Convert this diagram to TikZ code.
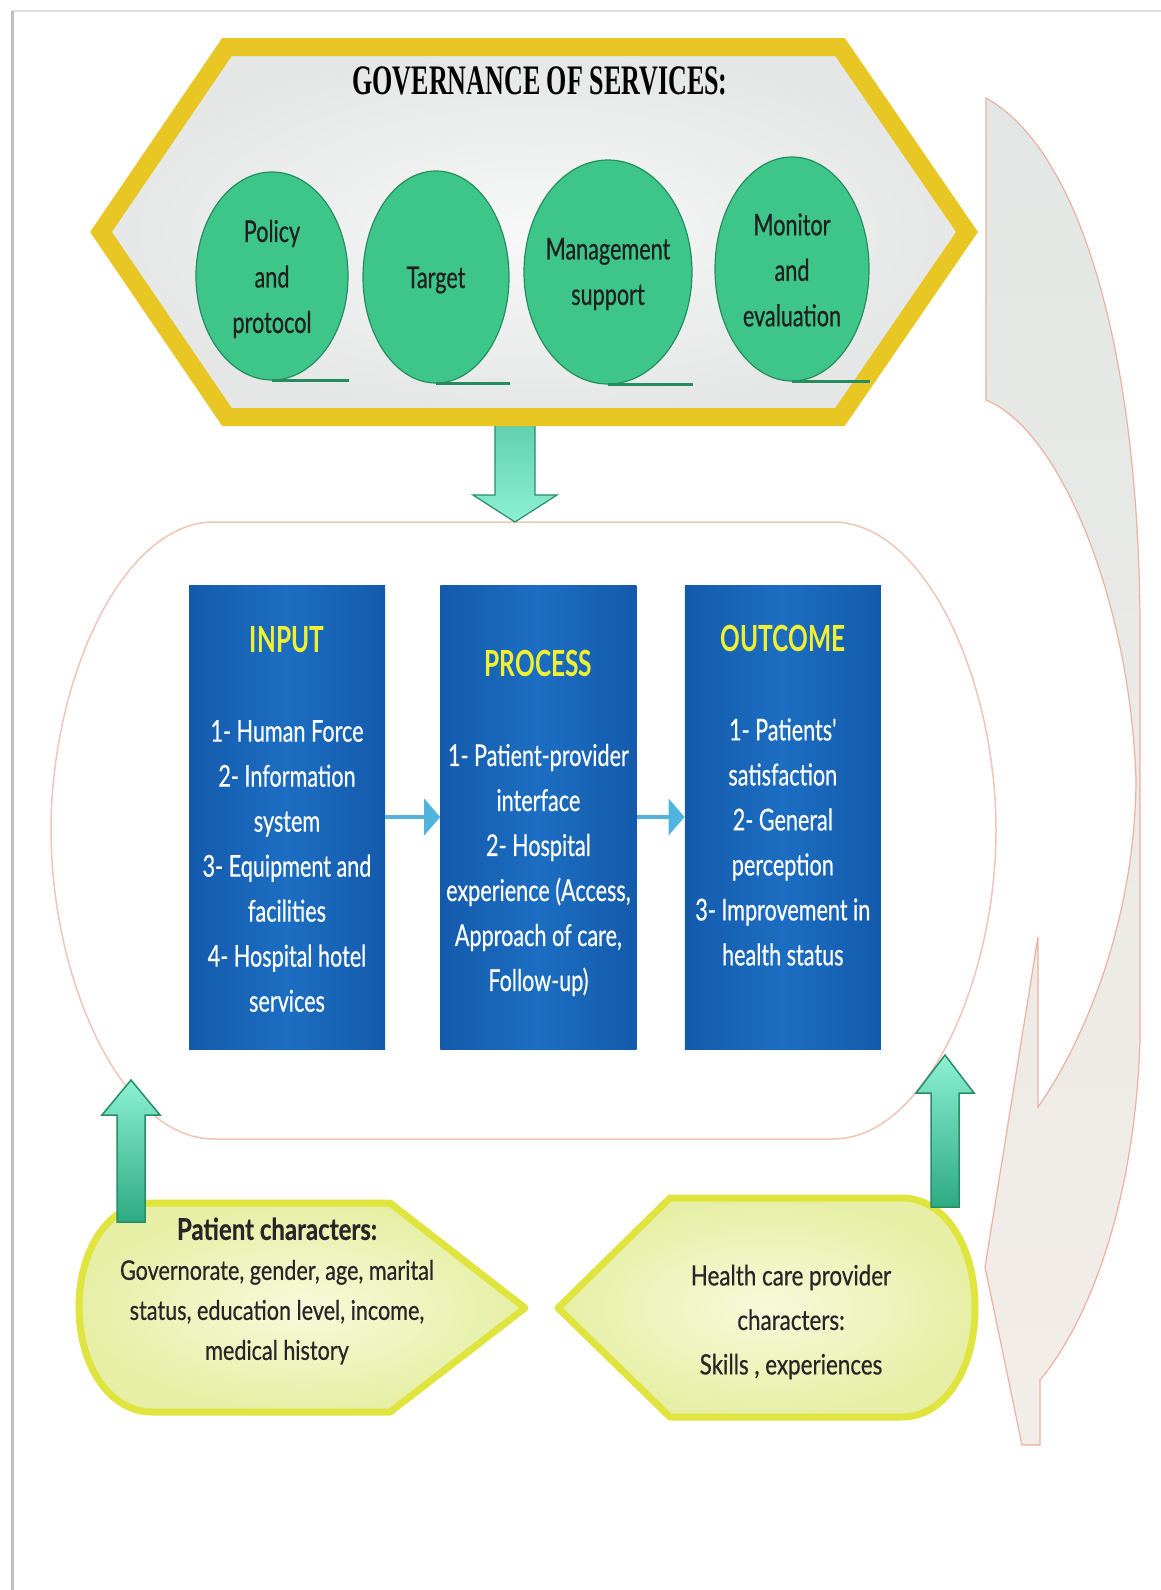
\documentclass[tikz,border=0pt]{standalone}
\usepackage{fontspec}
\setmainfont{Lato}
\newfontfamily\condfont[FakeStretch=0.72, FakeBold=0.5]{Lato}
\newfontfamily\headfont[FakeStretch=0.68]{Lato}
\newfontfamily\wordfont[FakeStretch=0.8, FakeBold=0.5]{Lato}
\newfontfamily\govfont[FakeStretch=0.62]{Liberation Serif}
\usetikzlibrary{shapes.geometric,positioning,calc,arrows.meta}

\definecolor{goalfill}{RGB}{62,198,138}
\definecolor{goalline}{RGB}{36,140,95}
\definecolor{stageedge}{RGB}{20,90,172}
\definecolor{stagemid}{RGB}{28,110,194}
\definecolor{headyellow}{RGB}{240,240,50}
\definecolor{flowblue}{RGB}{80,180,222}
\definecolor{mintlight}{RGB}{140,240,210}
\definecolor{mintdark}{RGB}{45,170,130}
\definecolor{mintedge}{RGB}{40,140,105}
\definecolor{govgold}{RGB}{232,198,36}
\definecolor{govfill}{RGB}{228,231,230}
\definecolor{loopline}{RGB}{240,196,184}
\definecolor{backtop}{RGB}{226,231,229}
\definecolor{backbottom}{RGB}{243,237,231}
\definecolor{backline}{RGB}{238,176,160}
\definecolor{charfill}{RGB}{230,239,165}
\definecolor{charinner}{RGB}{246,250,218}
\definecolor{charline}{RGB}{224,228,62}

\tikzset{
  goal/.style={ellipse, draw=goalline, line width=1.2pt, fill=goalfill},
  goaltext/.style={align=center, text=black!88, font=\condfont\fontsize{30}{45.5}\selectfont},
  goaltail/.style={draw=goalline, line width=3pt},
  stage/.style={rectangle, minimum width=196pt, minimum height=464pt,
    left color=stageedge, right color=stageedge, middle color=stagemid},
  stagehead/.style={text=headyellow, font=\headfont\bfseries\fontsize{36}{40}\selectfont},
  stagetext/.style={align=center, text=white, font=\condfont\fontsize{30}{45}\selectfont},
  flow/.style={draw=flowblue, line width=4pt, -{Triangle[width=36pt,length=16pt]}},
  govarrow/.style={top color=mintdark!45!mintlight, bottom color=mintlight, draw=mintedge, line width=1.2pt},
  uparrow/.style={top color=mintlight, bottom color=mintdark, draw=mintedge, line width=1.5pt},
  charbox/.style={inner color=charinner, outer color=charfill, draw=charline, line width=7pt, line join=round},
  chartext/.style={align=center, text=black!85, font=\wordfont\fontsize{27}{40}\selectfont},
}

% vertical block arrow: [style]{from}{to}{shaft half width}{head half width}{head length}
\newcommand{\blockarrow}[6][]{%
  \path[#1] let \p1=(#2), \p2=(#3), \n1={((\y1>\y2)*2-1)*#6} in
    ({\x2-#4},\y1) -- ({\x2-#4},{\y2+\n1}) -- ({\x2-#5},{\y2+\n1}) -- (\x2,\y2)
    -- ({\x2+#5},{\y2+\n1}) -- ({\x2+#4},{\y2+\n1}) -- ({\x2+#4},\y1) -- cycle;}

\begin{document}
\begin{tikzpicture}[x=1pt, y=-1pt]
  \useasboundingbox[fill=white] (0,0) rectangle (1161,1590);
  % page frame
  \draw[black!13, line width=2pt] (12,11) -- (1161,11);
  \draw[black!25, line width=3pt] (12,11) -- (12,1590);

  % feedback arrow on the right
  \draw[top color=backtop, bottom color=backbottom, draw=backline, line width=1.2pt]
    (986,98) .. controls (1080,150) and (1138,350) .. (1140,620)
    -- (1140,1040) .. controls (1135,1200) and (1090,1320) .. (1040,1380)
    -- (1040,1445) -- (1022,1445) -- (985,1267) -- (1038,937) -- (1038,1107)
    .. controls (1085,1040) and (1135,920) .. (1136,780)
    .. controls (1130,600) and (1060,430) .. (986,400) -- cycle;

  % loop around the three stages
  \draw[loopline, line width=1.5pt]
    (214,522) -- (833,522) .. controls (925,522) and (996,680) .. (996,830)
    .. controls (996,980) and (925,1139) .. (833,1139) -- (214,1139)
    .. controls (122,1139) and (51,980) .. (51,830)
    .. controls (51,680) and (122,522) .. (214,522) -- cycle;

  \coordinate (govS)  at (515,424);
  \coordinate (loopN) at (515,522);
  \coordinate (loopL) at (131,1080);
  \coordinate (loopR) at (945,1055);
  \coordinate (patN)  at (131,1222);
  \coordinate (provN) at (945,1207);

  \blockarrow[govarrow]{govS}{loopN}{20pt}{42pt}{27pt}

  % governance hexagon
  \draw[inner color=white!70!govfill, outer color=govfill, draw=govgold, line width=18pt, line join=miter]
    (101,232) -- (227,47) -- (840,47) -- (967,232) -- (840,417) -- (227,417) -- cycle;
  \node[font=\govfont\bfseries\fontsize{42}{46}\selectfont] (gov) at (540,81) {GOVERNANCE OF SERVICES:};

  \node[goal, minimum width=152pt, minimum height=208pt] (policy)  at (272,276) {};
  \node[goal, minimum width=146pt, minimum height=212pt] (target)  at (436,277) {};
  \node[goal, minimum width=168pt, minimum height=224pt] (mgmt)    at (608,272) {};
  \node[goal, minimum width=154pt, minimum height=224pt] (monitor) at (792,269) {};
  \foreach \g in {policy,target,mgmt,monitor}
    \draw[goaltail] (\g.south) -- (\g.south -| \g.east);
  \node[goaltext] at ([yshift=-3pt]policy)  {Policy\\and\\protocol};
  \node[goaltext] at ([yshift=-3pt]target)  {Target};
  \node[goaltext] at ([yshift=-2pt]mgmt)    {Management\\support};
  \node[goaltext] at ([yshift=-1pt]monitor) {Monitor\\and\\evaluation};

  % input -> process -> outcome
  \node[stage] (input) at (287,817) {};
  \node[stage, right=55pt of input] (process) {};
  \node[stage, right=48pt of process] (outcome) {};

  \node[stagehead] at ([yshift=-55pt]input.north)   {INPUT};
  \node[stagehead] at ([yshift=-79pt]process.north) {PROCESS};
  \node[stagehead] at ([yshift=-54pt]outcome.north) {OUTCOME};

  \node[stagetext] at ([yshift=-49pt]input.center)
    {1- Human Force\\2- Information\\system\\3- Equipment and\\facilities\\4- Hospital hotel\\services};
  \node[stagetext] at ([yshift=-53pt]process.center)
    {1- Patient-provider\\interface\\2- Hospital\\experience (Access,\\Approach of care,\\Follow-up)};
  \node[stagetext] at ([yshift=-25pt]outcome.center)
    {1- Patients'\\satisfaction\\2- General\\perception\\3- Improvement in\\health status};

  \draw[flow] (input) -- (process);
  \draw[flow] (process) -- (outcome);

  % patient and provider characters
  \draw[charbox] (152,1203) -- (390,1203) -- (525,1308) -- (390,1412) -- (152,1412)
    .. controls (110,1412) and (79,1366) .. (79,1307)
    .. controls (79,1248) and (110,1203) .. (152,1203) -- cycle;
  \draw[charbox] (558,1308) -- (670,1198) -- (902,1198)
    .. controls (944,1198) and (975,1245) .. (975,1308)
    .. controls (975,1370) and (944,1417) .. (902,1417) -- (670,1417) -- cycle;

  \node[chartext] (patient) at (277,1291)
    {{\bfseries\fontsize{30}{40}\selectfont Patient characters:}\\Governorate, gender, age, marital\\status, education level, income,\\medical history};
  \node[chartext, font=\wordfont\fontsize{28}{44.5}\selectfont] (provider) at (791,1322)
    {Health care provider\\characters:\\Skills , experiences};

  \blockarrow[uparrow]{patN}{loopL}{14pt}{29pt}{35pt}
  \blockarrow[uparrow]{provN}{loopR}{14pt}{29pt}{38pt}
\end{tikzpicture}
\end{document}
